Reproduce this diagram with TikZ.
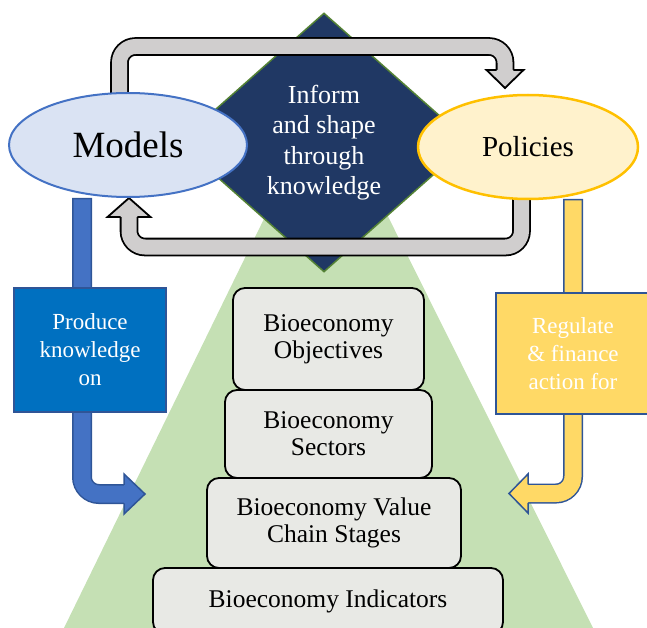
\documentclass[tikz,border=0pt]{standalone}
\usepackage{fontspec}
\setmainfont{Liberation Serif}
\usetikzlibrary{shapes.geometric}
\pgfdeclarelayer{back}
\pgfdeclarelayer{middle}
\pgfsetlayers{back,middle,main}
\definecolor{pyramide}{HTML}{C5E0B4}
\definecolor{marino}{HTML}{203864}
\definecolor{verdeborde}{HTML}{548235}
\definecolor{azulclaro}{HTML}{DAE3F3}
\definecolor{azulmedio}{HTML}{4472C4}
\definecolor{azulborde}{HTML}{2F5597}
\definecolor{azulcaja}{HTML}{0070C0}
\definecolor{amarilloclaro}{HTML}{FFF2CC}
\definecolor{amarillo}{HTML}{FFC000}
\definecolor{amarillocaja}{HTML}{FFD966}
\definecolor{gris}{HTML}{D0CECE}
\definecolor{caja}{HTML}{E8E9E5}
\begin{document}
\begin{tikzpicture}[
    x=1pt, y=-1pt,
    every node/.style={inner sep=0pt},
    elipse/.style={ellipse, line width=2pt, minimum width=238pt, minimum height=104pt},
    rombo/.style={diamond, fill=marino, draw=verdeborde, line width=1.5pt,
        minimum width=292pt, minimum height=259pt, text=white, align=center,
        font=\fontsize{26}{30.5}\selectfont},
    nivel/.style={draw, fill=caja, line width=1.8pt, rounded corners=12pt, align=center,
        font=\fontsize{25.5}{27}\selectfont},
    lateral/.style={draw=azulborde, line width=2pt, text=white, align=center,
        font=\fontsize{23}{28}\selectfont},
    bucle/.style={draw=black, line width=1.8pt, double=gris, double distance=15pt,
        rounded corners=16pt, line cap=rect},
    flecha/.style={draw=azulborde, line width=1.5pt, double distance=17pt,
        rounded corners=17pt, line cap=rect}
]
\useasboundingbox (0,0) rectangle (647,628);
% Piramide y rombo
\begin{pgfonlayer}{back}
\fill[pyramide] (326,92) -- (64,628) -- (593,628) -- cycle;
\node[rombo] (inform) at (324,142.5) {Inform\\and shape\\through\\knowledge};
\end{pgfonlayer}
% Niveles
\node[nivel, minimum width=191pt, minimum height=102pt] (objectives) at (328.5,339) {Bioeconomy\\Objectives};
\node[nivel, minimum width=207pt, minimum height=88pt] (sectors) at (328.5,434) {Bioeconomy\\Sectors};
\node[nivel, minimum width=254pt, minimum height=90pt] (stages) at (334,523) {Bioeconomy Value\\Chain Stages};
\node[nivel, minimum width=350pt, minimum height=66pt] (indicators) at (328,601) {Bioeconomy Indicators};
% Elipses
\node[elipse, fill=azulclaro, draw=azulmedio, font=\fontsize{37}{40}\selectfont] (models) at (128,145) {Models};
\node[elipse, fill=amarilloclaro, draw=amarillo, line width=2.5pt, minimum width=220pt,
    font=\fontsize{29}{33}\selectfont] (policies) at (528,147) {Policies};
% Cajas laterales
\node[lateral, fill=azulcaja, minimum width=152pt, minimum height=124pt] (produce) at (90,350) {Produce\\knowledge\\on};
\node[lateral, fill=amarillocaja, minimum width=154pt, minimum height=121pt] (regulate) at (573,353.5) {Regulate\\\& finance\\action for};
% Flechas
\coordinate (topHead) at (505,68);
\coordinate (botHead) at (129,219);
\coordinate (blueStart) at (82,208);
\coordinate (blueHead) at (122,494);
\coordinate (yellowStart) at (573,209);
\coordinate (yellowHead) at (530,493.5);
\begin{pgfonlayer}{middle}
\draw[bucle] ([xshift=-8.5pt]models.center) -- ++(0,-98.5) -| (topHead);
\fill[gris, shift={(505,70)}] (-18.5,0) -- (0,18) -- (18.5,0) -- cycle;
\draw[line width=1.8pt, line join=miter, shift={(505,70)}] (-8.4,0) -- (-18.5,0) -- (0,18) -- (18.5,0) -- (8.4,0);
\draw[bucle] ([xshift=-6.5pt]policies.center) -- ++(0,100) -| (botHead);
\fill[gris, shift={(129,217)}] (-21.5,0) -- (0,-19) -- (21.5,0) -- cycle;
\draw[line width=1.8pt, line join=miter, shift={(129,217)}] (-8.4,0) -- (-21.5,0) -- (0,-19) -- (21.5,0) -- (8.4,0);
\draw[flecha, double=azulmedio] (blueStart) |- (blueHead);
\fill[azulmedio, shift={(124,494)}] (0,-20) -- (21,0) -- (0,20) -- cycle;
\draw[azulborde, line width=1.5pt, line join=miter, shift={(124,494)}] (0,-9.25) -- (0,-20) -- (21,0) -- (0,20) -- (0,9.25);
\draw[flecha, double=amarillocaja] (yellowStart) |- (yellowHead);
\fill[amarillocaja, shift={(528,493.5)}] (0,-19.5) -- (-19,0) -- (0,19.5) -- cycle;
\draw[azulborde, line width=1.5pt, line join=miter, shift={(528,493.5)}] (0,-9.25) -- (0,-19.5) -- (-19,0) -- (0,19.5) -- (0,9.25);
\end{pgfonlayer}
\end{tikzpicture}
\end{document}
